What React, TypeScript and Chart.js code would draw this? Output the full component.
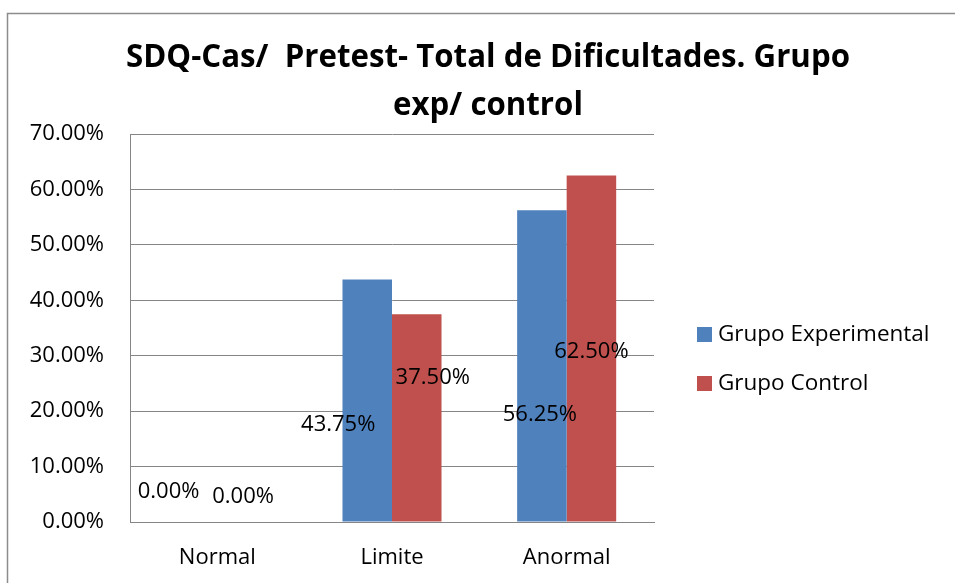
import { useEffect, useRef } from "react";
import { Chart, registerables } from "chart.js";

Chart.register(...registerables);

const categories = ["Normal", "Limite", "Anormal"];
const seriesNames = ["Grupo Experimental", "Grupo Control"];
const experimental = [0, 43.75, 56.25];
const control = [0, 37.5, 62.5];
const seriesColors = ["#4F81BD", "#C0504D"];
const titleLines = ["SDQ-Cas/  Pretest- Total de Dificultades. Grupo", "exp/ control"];
const yMin = 0;
const yMax = 70;
const yStep = 10;

// label placement (layout only): pixel shift from bar centre, and height in axis units
const labelPlacement = [
  [{ dx: -24, at: 5.4 }, { dx: -29, at: 17.5 }, { dx: -2, at: 19.3 }],
  [{ dx: 1, at: 4.6 }, { dx: 16, at: 26.0 }, { dx: 0, at: 30.7 }],
];

const FONT = "'Open Sans', 'DejaVu Sans', sans-serif";

const decorPlugin = {
  id: "decor",
  beforeDraw(chart: any) {
    const ctx = chart.ctx;
    ctx.save();
    ctx.fillStyle = "#ffffff";
    ctx.fillRect(0, 0, chart.width, chart.height);
    ctx.strokeStyle = "#8c8c8c";
    ctx.lineWidth = 1.5;
    ctx.beginPath();
    ctx.moveTo(7.5, chart.height);
    ctx.lineTo(7.5, 13.5);
    ctx.lineTo(chart.width, 13.5);
    ctx.stroke();
    ctx.restore();
  },
  afterDraw(chart: any) {
    const ctx = chart.ctx;
    ctx.save();
    // title
    ctx.fillStyle = "#000000";
    ctx.font = `bold 31.5px ${FONT}`;
    ctx.textAlign = "center";
    ctx.textBaseline = "alphabetic";
    const w1 = ctx.measureText(titleLines[0]).width;
    const target = 724;
    const ratio = Math.min(1, target / w1);
    const cx = 488;
    ctx.fillText(titleLines[0], cx, 67, w1 * ratio);
    const w2 = ctx.measureText(titleLines[1]).width;
    ctx.fillText(titleLines[1], cx, 115, w2 * ratio);

    // legend
    ctx.font = `22.5px ${FONT}`;
    ctx.textAlign = "left";
    ctx.textBaseline = "middle";
    seriesNames.forEach((name, i) => {
      const y = 335 + i * 49;
      ctx.fillStyle = seriesColors[i];
      ctx.fillRect(697, y - 8, 15, 15);
      ctx.fillStyle = "#000000";
      ctx.fillText(name, 718, y);
    });
    ctx.restore();
  },
  afterDatasetsDraw(chart: any) {
    const ctx = chart.ctx;
    const yScale = chart.scales.y;
    ctx.save();
    ctx.font = `22px ${FONT}`;
    ctx.fillStyle = "#000000";
    ctx.textAlign = "center";
    ctx.textBaseline = "middle";
    chart.data.datasets.forEach((ds: any, di: number) => {
      const meta = chart.getDatasetMeta(di);
      meta.data.forEach((el: any, i: number) => {
        const p = labelPlacement[di][i];
        const v = ds.data[i];
        ctx.fillText(v.toFixed(2) + "%", el.x + p.dx, yScale.getPixelForValue(p.at));
      });
    });
    ctx.restore();
  },
};

export default function App() {
  const ref = useRef<HTMLCanvasElement | null>(null);
  useEffect(() => {
    if (!ref.current) return;
    const chart = new Chart(ref.current, {
      type: "bar",
      data: {
        labels: categories,
        datasets: [
          { label: seriesNames[0], data: experimental, backgroundColor: seriesColors[0] },
          { label: seriesNames[1], data: control, backgroundColor: seriesColors[1] },
        ],
      },
      options: {
        responsive: false,
        animation: false,
        layout: { padding: { left: 0, top: 134, right: 301, bottom: 0 } },
        datasets: { bar: { categoryPercentage: 0.567, barPercentage: 1 } },
        plugins: {
          legend: { display: false },
          title: { display: false },
          tooltip: { enabled: false },
        },
        scales: {
          x: {
            grid: { display: false, drawTicks: false },
            border: { display: true, color: "#868686" },
            ticks: { color: "#000000", font: { family: FONT, size: 22 }, padding: 23 },
            afterFit(scale: any) {
              scale.height = 61;
            },
          },
          y: {
            min: yMin,
            max: yMax,
            ticks: {
              stepSize: yStep,
              color: "#000000",
              font: { family: FONT, size: 22 },
              padding: 26,
              callback: (v: any) => Number(v).toFixed(2) + "%",
            },
            grid: { color: "#868686", drawTicks: false, lineWidth: 1 },
            border: { display: true, color: "#868686" },
            afterFit(scale: any) {
              scale.width = 130;
            },
          },
        },
      },
      plugins: [decorPlugin],
    });
    return () => chart.destroy();
  }, []);
  return (
    <div style={{ position: "absolute", left: 0, top: 0, width: 955, height: 583 }}>
      <canvas ref={ref} width={955} height={583} />
    </div>
  );
}
